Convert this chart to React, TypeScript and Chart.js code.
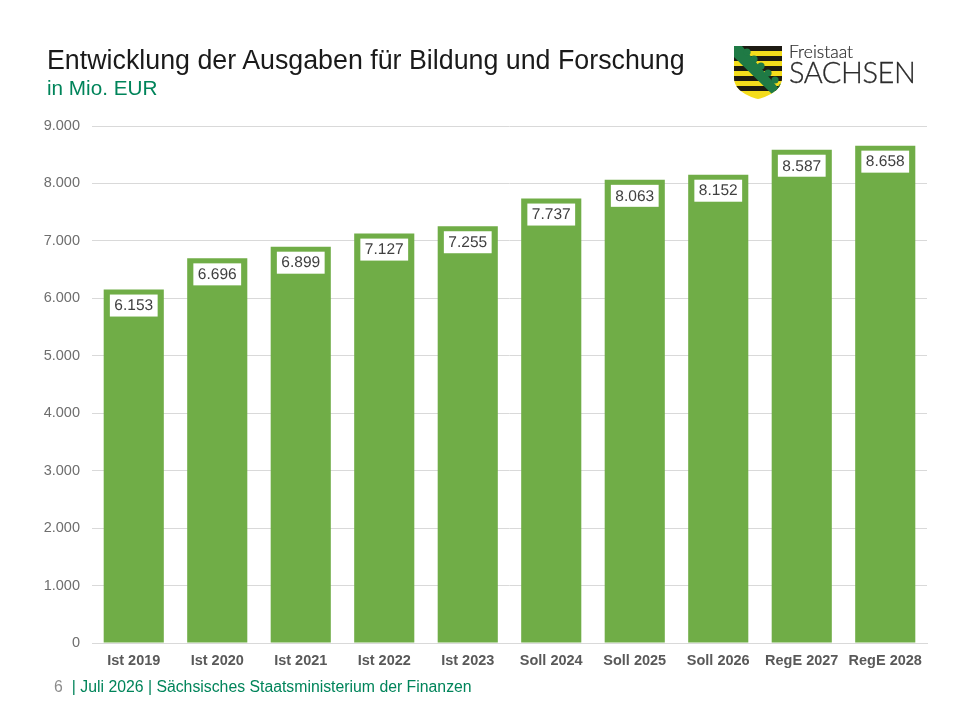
import { useRef, useEffect } from 'react'
import { Chart, registerables } from 'chart.js'

Chart.register(...registerables)

const categories = ['Ist 2019', 'Ist 2020', 'Ist 2021', 'Ist 2022', 'Ist 2023', 'Soll 2024', 'Soll 2025', 'Soll 2026', 'RegE 2027', 'RegE 2028']
const ausgaben = [6153, 6696, 6899, 7127, 7255, 7737, 8063, 8152, 8587, 8658]
const labels = ['6.153', '6.696', '6.899', '7.127', '7.255', '7.737', '8.063', '8.152', '8.587', '8.658']

const FONT = '"Liberation Sans", Arial, sans-serif'
const GREEN = '#00845a'

// white boxes inside the top of each bar
const valueBoxes = {
  id: 'valueBoxes',
  afterDatasetsDraw(chart: Chart) {
    const { ctx } = chart
    const meta = chart.getDatasetMeta(0)
    ctx.save()
    ;(ctx as any).textRendering = 'geometricPrecision'
    ctx.font = `15.5px ${FONT}`
    ctx.textAlign = 'center'
    ctx.textBaseline = 'middle'
    meta.data.forEach((bar, i) => {
      const w = ctx.measureText(labels[i]).width + 9
      ctx.fillStyle = '#ffffff'
      ctx.fillRect(bar.x - w / 2, bar.y + 5, w, 22)
      ctx.fillStyle = '#404040'
      ctx.fillText(labels[i], bar.x, bar.y + 16.5)
    })
    ctx.restore()
  },
}

function Logo() {
  return (
    <svg width={190} height={60} viewBox="0 0 190 60" style={{ position: 'absolute', left: 730, top: 42 }}>
      <defs>
        <clipPath id="shield">
          <path d="M4 4 H52 V36 C52 47 40 54 28 57 C16 54 4 47 4 36 Z" />
        </clipPath>
      </defs>
      <g clipPath="url(#shield)">
        <rect x={4} y={4} width={48} height={53} fill="#f4dc1c" />
        {[4, 14, 24, 34, 44].map(y => <rect key={y} x={4} y={y} width={48} height={5} fill="#1d1a12" />)}
        <path d="M4 8 L4 15 L44 54 L50 48 L12 4 L4 4 Z" fill="#1f7a45" />
        {[4, 11, 18, 25, 32, 39].map(d => <circle key={d} cx={13 + d} cy={6 + d} r={3.6} fill="#1f7a45" />)}
      </g>
      <text x={59} y={16} fontFamily="Lato, sans-serif" fontWeight={300} fontSize={17.5} fill="#2b2b2b" stroke="#2b2b2b" strokeWidth={0.2}>Freistaat</text>
      <text x={59} y={41} fontFamily="Lato, sans-serif" fontWeight={300} fontSize={29} fill="#2b2b2b" stroke="#2b2b2b" strokeWidth={0.3} letterSpacing={-0.45}>SACHSEN</text>
    </svg>
  )
}

export default function App() {
  const canvasRef = useRef<HTMLCanvasElement>(null)

  useEffect(() => {
    if (!canvasRef.current) return
    const chart = new Chart(canvasRef.current, {
      type: 'bar',
      data: {
        labels: categories,
        datasets: [{
          data: ausgaben,
          backgroundColor: '#70ad47',
          categoryPercentage: 1,
          barPercentage: 0.72,
        }],
      },
      options: {
        responsive: false,
        animation: false,
        layout: { padding: { top: 126, right: 33, bottom: 49, left: 0 } },
        plugins: { legend: { display: false }, tooltip: { enabled: false } },
        scales: {
          x: {
            afterFit: (s: any) => { s.height = 28 },
            grid: { display: false },
            border: { color: '#d9d9d9' },
            ticks: { color: '#595959', font: { family: FONT, size: 14.5, weight: 'bold' }, maxRotation: 0, autoSkip: false, padding: 1 },
          },
          y: {
            min: 0,
            max: 9000,
            afterFit: (s: any) => { s.width = 92 },
            grid: { color: '#d9d9d9', drawTicks: false },
            border: { display: false },
            ticks: {
              stepSize: 1000,
              color: '#6e6e6e',
              padding: 12,
              font: { family: FONT, size: 14.5 },
              callback: v => Number(v).toLocaleString('de-DE'),
            },
          },
        },
      },
      plugins: [valueBoxes],
    })
    return () => { chart.destroy() }
  }, [])

  return (
    <div style={{ position: 'absolute', left: 0, top: 0, width: 960, height: 720, background: '#fff', fontFamily: FONT, overflow: 'hidden' }}>
      <canvas ref={canvasRef} width={960} height={720} style={{ position: 'absolute', left: 0, top: 0 }} />
      <div style={{ position: 'absolute', left: 47, top: 45, fontSize: 26.8, color: '#1a1a1a', whiteSpace: 'nowrap' }}>
        Entwicklung der Ausgaben für Bildung und Forschung
      </div>
      <div style={{ position: 'absolute', left: 47, top: 76, fontSize: 20.7, color: GREEN, whiteSpace: 'nowrap' }}>in Mio. EUR</div>
      <div style={{ position: 'absolute', left: 54, top: 678, fontSize: 15.8, color: GREEN, whiteSpace: 'nowrap' }}>
        <span style={{ color: '#8c8c8c', marginRight: 9 }}>6</span>| Juli 2026 | Sächsisches Staatsministerium der Finanzen
      </div>
      <Logo />
    </div>
  )
}
